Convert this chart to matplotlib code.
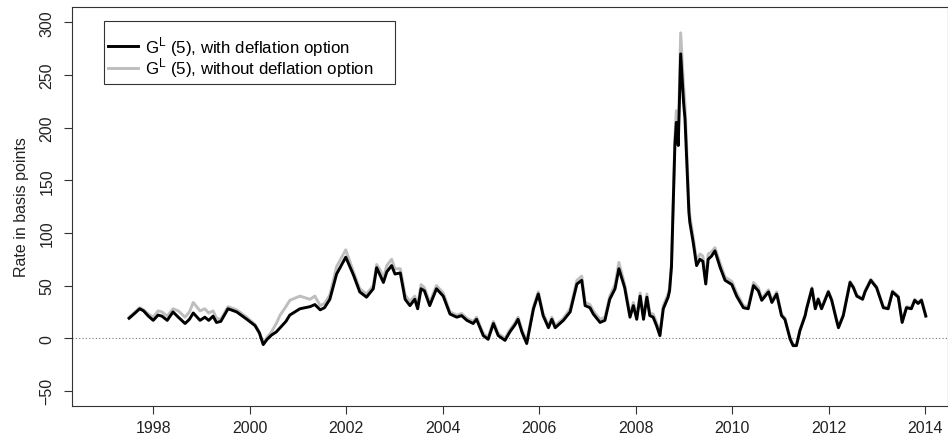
import matplotlib

matplotlib.use("Agg")
import matplotlib.pyplot as plt
from matplotlib.patches import Rectangle


# decimal years of the points
years = [
    1997.50, 1997.60, 1997.72, 1997.80, 1997.90, 1998.00, 1998.10, 1998.18,
    1998.29, 1998.41, 1998.52, 1998.66, 1998.75, 1998.83, 1998.97, 1999.07,
    1999.15, 1999.24, 1999.31, 1999.40, 1999.55, 1999.73, 1999.94, 2000.11,
    2000.20, 2000.28, 2000.36, 2000.45, 2000.55, 2000.63, 2000.75, 2000.83,
    2001.04, 2001.25, 2001.35, 2001.46, 2001.55, 2001.66, 2001.80, 2001.99,
    2002.15, 2002.28, 2002.42, 2002.56, 2002.63, 2002.70, 2002.77, 2002.84,
    2002.94, 2003.01, 2003.12, 2003.22, 2003.32, 2003.42, 2003.48, 2003.55,
    2003.62, 2003.73, 2003.87, 2004.01, 2004.15, 2004.29, 2004.39, 2004.50,
    2004.63, 2004.70, 2004.84, 2004.94, 2005.05, 2005.15, 2005.29, 2005.39,
    2005.50, 2005.56, 2005.64, 2005.74, 2005.88, 2005.98, 2006.08, 2006.19,
    2006.26, 2006.33, 2006.50, 2006.64, 2006.78, 2006.88, 2006.95, 2007.05,
    2007.12, 2007.26, 2007.36, 2007.46, 2007.57, 2007.65, 2007.77, 2007.88,
    2007.95, 2008.02, 2008.09, 2008.16, 2008.23, 2008.29, 2008.36, 2008.43,
    2008.50, 2008.57, 2008.67, 2008.70, 2008.74, 2008.81, 2008.84, 2008.88,
    2008.93, 2008.99, 2009.02, 2009.10, 2009.12, 2009.19, 2009.26, 2009.33,
    2009.39, 2009.45, 2009.50, 2009.57, 2009.64, 2009.75, 2009.85, 2009.99,
    2010.09, 2010.23, 2010.33, 2010.44, 2010.54, 2010.61, 2010.75, 2010.82,
    2010.92, 2011.02, 2011.09, 2011.20, 2011.26, 2011.33, 2011.40, 2011.51,
    2011.54, 2011.65, 2011.72, 2011.78, 2011.85, 2011.99, 2012.06, 2012.16,
    2012.20, 2012.30, 2012.44, 2012.51, 2012.58, 2012.70, 2012.75, 2012.87,
    2012.99, 2013.13, 2013.23, 2013.32, 2013.44, 2013.52, 2013.61, 2013.71,
    2013.78, 2013.85, 2013.92, 2014.01,
]

# G^L(5) with deflation option (black)
with_deflation = [
    19, 23, 28, 26, 21, 17, 22, 21,
    17, 25, 20, 14, 18, 24, 17, 20,
    17, 21, 15, 16, 28, 25, 18, 12,
    5, -6, -1, 3, 6, 10, 16, 22,
    28, 30, 32, 27, 29, 37, 61, 77,
    60, 44, 39, 47, 67, 60, 53, 63,
    69, 61, 62, 37, 31, 37, 28, 47,
    45, 31, 47, 40, 23, 20, 21.5, 17,
    14, 18, 2.5, -1, 14, 2.5, -2, 6,
    13, 18, 6, -5, 28, 42, 21.5, 10,
    18, 10, 17, 25, 51.5, 55, 31, 29,
    23, 15, 17, 37, 47, 66, 48, 20,
    31, 18, 40, 18, 39, 21.5, 20, 12,
    2.5, 28, 39, 45, 68, 183, 205, 183,
    270, 224, 208, 120, 110, 91, 69, 75,
    73, 51.5, 75, 78, 83, 67, 55, 51,
    40, 29, 28, 50, 45, 36, 44, 34,
    42, 21.5, 18, -1, -7, -7, 7, 21.5,
    28, 47, 28, 37, 28, 44, 36, 17,
    10, 21.5, 53, 48, 40, 37, 44, 55,
    48, 29, 28, 44, 39, 15, 29, 28,
    36, 33, 36, 21,
]

# G^L(5) without deflation option (grey)
without_deflation = [
    20, 24, 29, 27, 23, 20, 26, 25,
    21, 28, 26, 20, 25, 34, 26, 28,
    24, 26, 19, 18, 30, 27, 20, 13,
    6, -5, 1, 6, 14, 22, 30, 36,
    40, 37, 40, 31, 33, 41, 68, 84,
    63, 47, 42, 50, 70, 65, 57, 69,
    75, 66, 66, 41, 35, 40, 31, 51,
    48, 34, 50, 43, 25, 22, 23.5, 19,
    16, 20, 4.5, 1, 16, 4.5, 0, 8,
    15, 20, 8, -3, 30, 44, 23.5, 12,
    20, 12, 19, 28, 55, 59, 34, 32,
    26, 18, 20, 40, 51, 72, 51, 23,
    34, 21, 43, 21, 42, 24, 23, 15,
    4.5, 31, 42, 48, 72, 190, 216, 190,
    290, 240, 222, 128, 116, 96, 73, 80,
    78, 55, 80, 82, 86, 71, 58, 54,
    43, 31, 30, 53, 48, 38, 46, 36,
    44, 23, 19, 0, -6, -6, 8, 22.5,
    29, 48, 29, 38, 29, 45, 37, 18,
    11, 22.5, 54, 49, 41, 38, 45, 56,
    49, 30, 29, 45, 40, 16, 30, 29,
    37, 34, 37, 22,
]

x_ticks = list(range(1998, 2015, 2))
y_ticks = [-50, 0, 50, 100, 150, 200, 250, 300]

labels = [
    r"G$^{\mathrm{L}}$ (5), with deflation option",
    r"G$^{\mathrm{L}}$ (5), without deflation option",
]

plt.rcParams["font.family"] = ["Liberation Sans", "DejaVu Sans"]
plt.rcParams["mathtext.fontset"] = "custom"
plt.rcParams["mathtext.rm"] = "Liberation Sans"
plt.rcParams["font.size"] = 11.5

fig = plt.figure(figsize=(9.48, 4.35), dpi=100)
ax = fig.add_axes([0.0756, 0.0644, 0.9244, 0.9172])

ax.axhline(0, color="#777777", linewidth=0.8, linestyle=(0, (1, 2)), zorder=1)

grey_line, = ax.plot(years, without_deflation, color="#bebebe", linewidth=2.1,
                     solid_joinstyle="round", zorder=2)
black_line, = ax.plot(years, with_deflation, color="black", linewidth=2.1,
                      solid_joinstyle="round", zorder=3)

ax.set_xlim(1996.31, 2014.47)
ax.set_ylim(-64.3, 314.5)
ax.set_xticks(x_ticks)
ax.set_yticks(y_ticks)
ax.set_yticklabels([str(v).replace("-", "\u2212") for v in y_ticks],
                   rotation=90, va="center")
ax.tick_params(direction="out", length=5.8, width=0.8, color="#333333",
               labelcolor="#222222")
ax.tick_params(axis="x", pad=4)
ax.tick_params(axis="y", pad=6.5)
for spine in ax.spines.values():
    spine.set_linewidth(0.8)
    spine.set_color("#333333")

ax.set_ylabel("Rate in basis points", color="#222222")
ax.yaxis.set_label_coords(-0.049, 0.5)

leg = ax.legend([black_line, grey_line], labels, loc="upper left",
                bbox_to_anchor=(0.041, 0.932), frameon=False, borderpad=0,
                borderaxespad=0, handlelength=1.8, handletextpad=0.4,
                labelspacing=-0.12, fontsize=12.2)
ax.add_patch(Rectangle((0.0372, 0.808), 0.3312, 0.157, transform=ax.transAxes,
                       fill=False, edgecolor="#333333", linewidth=0.8,
                       zorder=4))

fig.savefig("out.png", dpi=100)
